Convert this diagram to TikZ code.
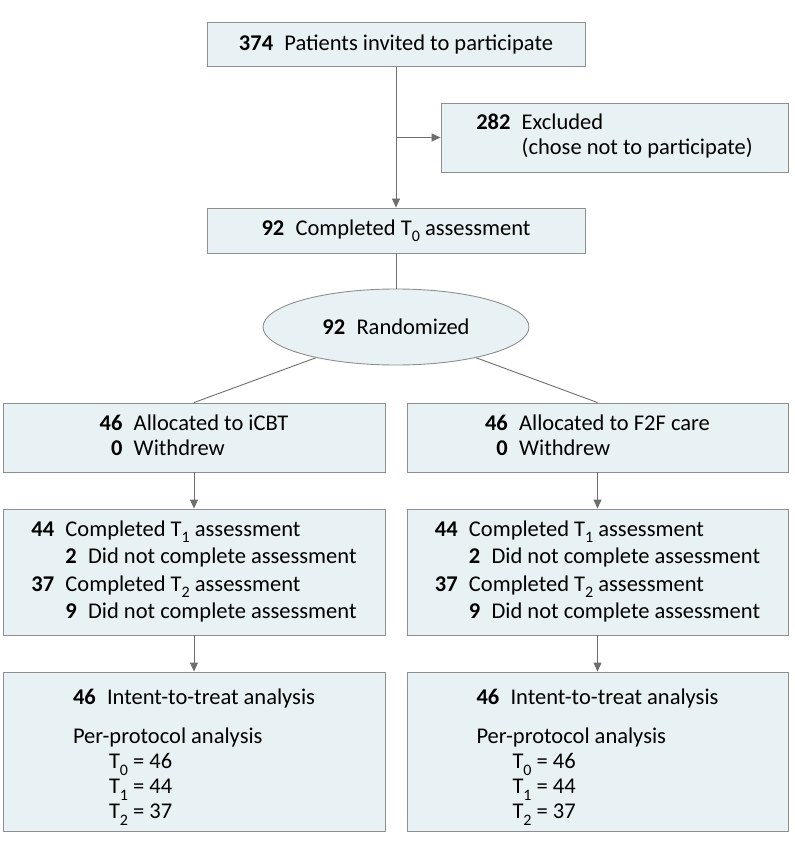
\documentclass[tikz,border=0pt]{standalone}
\usepackage{fontspec}
\setmainfont{Carlito}
\usetikzlibrary{shapes.geometric,arrows.meta}
\definecolor{boxfill}{HTML}{E8F1F3}
\definecolor{boxline}{HTML}{8F8F8F}
\definecolor{connc}{HTML}{6E6E6E}
\newcommand{\tsub}[1]{\raisebox{-0.6ex}{\fontsize{16}{16}\selectfont #1}}
\newcommand{\nb}[1]{\textbf{#1}}
\begin{document}
\begin{tikzpicture}[x=1pt,y=-1pt,
 box/.style={draw=boxline, fill=boxfill, line width=0.9pt, rectangle, inner sep=0pt, font=\fontsize{22.5}{25}\selectfont, text=black},
 ovalbox/.style={box, ellipse},
 conn/.style={draw=connc, line width=0.9pt},
 arr/.style={conn, -{Triangle[length=9pt,width=8pt]}}]
\useasboundingbox (0,0) rectangle (794,850);

\node[box, minimum width=378pt, minimum height=44pt] (inv) at (396,44.5) {\nb{374}\enspace Patients invited to participate};

\node[box, minimum width=347pt, minimum height=69pt] (exc) at (614.5,137.5) {\begin{tabular}{@{}r@{\enspace}l@{}}\nb{282} & Excluded\\ & (chose not to participate)\end{tabular}};

\node[box, minimum width=378pt, minimum height=45pt] (t0) at (396,230.5) {\nb{92}\enspace Completed T\tsub{0} assessment};

\node[ovalbox, minimum width=266pt, minimum height=76pt] (rand) at (396,327) {\nb{92}\enspace Randomized};

% left column
\node[box, minimum width=382pt, minimum height=69pt] (L1) at (194,437.5) {\begin{tabular}{@{}r@{\enspace}l@{}}\nb{46} & Allocated to iCBT\\ \nb{0} & Withdrew\end{tabular}};

\node[box, minimum width=382pt, minimum height=126pt, font=\fontsize{22.5}{27.5}\selectfont] (L2) at (194,572) {\begin{tabular}{@{}r@{\enspace}l@{}}\nb{44} & Completed T\tsub{1} assessment\\ & \nb{2}\enspace Did not complete assessment\\ \nb{37} & Completed T\tsub{2} assessment\\ & \nb{9}\enspace Did not complete assessment\end{tabular}};

\node[box, minimum width=382pt, minimum height=159pt] (L3) at (194,751.5) {\begin{tabular}{@{}l@{}}\rule{0pt}{28pt}\nb{46}\enspace Intent-to-treat analysis\\[14pt] Per-protocol analysis\\ \hspace{36pt}T\tsub{0} = 46\\ \hspace{36pt}T\tsub{1} = 44\\ \hspace{36pt}T\tsub{2} = 37\end{tabular}};

% right column
\node[box, minimum width=381pt, minimum height=69pt] (R1) at (597.5,437.5) {\begin{tabular}{@{}r@{\enspace}l@{}}\nb{46} & Allocated to F2F care\\ \nb{0} & Withdrew\end{tabular}};

\node[box, minimum width=381pt, minimum height=126pt, font=\fontsize{22.5}{27.5}\selectfont] (R2) at (597.5,572) {\begin{tabular}{@{}r@{\enspace}l@{}}\nb{44} & Completed T\tsub{1} assessment\\ & \nb{2}\enspace Did not complete assessment\\ \nb{37} & Completed T\tsub{2} assessment\\ & \nb{9}\enspace Did not complete assessment\end{tabular}};

\node[box, minimum width=381pt, minimum height=159pt] (R3) at (597.5,751.5) {\begin{tabular}{@{}l@{}}\rule{0pt}{28pt}\nb{46}\enspace Intent-to-treat analysis\\[14pt] Per-protocol analysis\\ \hspace{36pt}T\tsub{0} = 46\\ \hspace{36pt}T\tsub{1} = 44\\ \hspace{36pt}T\tsub{2} = 37\end{tabular}};

% connectors
\coordinate (br) at (inv.south |- exc.west);
\draw[arr] (inv.south) -- (t0.north);
\draw[arr] (br) -- (exc.west);
\draw[conn] (t0.south) -- (rand.north);
\draw[conn] (rand.201) -- (L1.north);
\draw[conn] (rand.339) -- (R1.north);
\draw[arr] (L1.south) -- (L2.north);
\draw[arr] (L2.south) -- (L3.north);
\draw[arr] (R1.south) -- (R2.north);
\draw[arr] (R2.south) -- (R3.north);
\end{tikzpicture}
\end{document}
